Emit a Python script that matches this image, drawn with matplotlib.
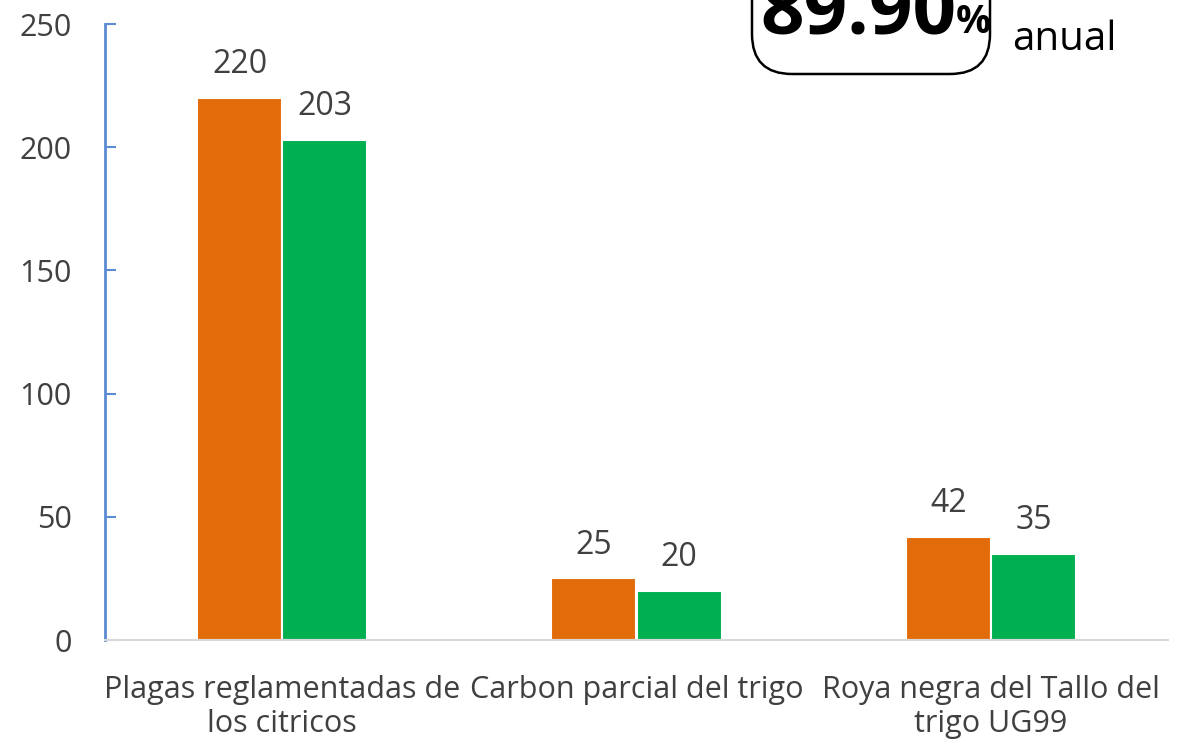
import matplotlib
matplotlib.use("Agg")
import matplotlib.pyplot as plt
import numpy as np
from matplotlib.patches import FancyBboxPatch
from matplotlib.transforms import IdentityTransform

# --- DATA ---
categories = ["Plagas reglamentadas de\nlos citricos", "Carbon parcial del trigo",
              "Roya negra del Tallo del\ntrigo UG99"]
serie_a = [220, 25, 42]
serie_b = [203, 20, 35]
yticks = [0, 50, 100, 150, 200, 250]

ORANGE = '#E36C0A'
GREEN = '#00B050'
GRAY = '#404040'

plt.rcParams['font.family'] = ['Open Sans', 'DejaVu Sans']

W, H = 1191, 748
fig = plt.figure(figsize=(W / 100, H / 100), dpi=100)
ax = fig.add_axes([105 / W, 1 - 640 / H, (1168 - 105) / W, (640 - 24) / H])

x = np.arange(len(categories))
w = 0.24
b1 = ax.bar(x - w / 2, serie_a, w, color=ORANGE, edgecolor='white', linewidth=1.5)
b2 = ax.bar(x + w / 2, serie_b, w, color=GREEN, edgecolor='white', linewidth=1.5)

for bars in (b1, b2):
    for r in bars:
        ax.annotate(f"{int(r.get_height())}", (r.get_x() + r.get_width() / 2, r.get_height()),
                    xytext=(0, 12), textcoords='offset points', ha='center', va='bottom',
                    fontsize=23, color=GRAY)

ax.set_xlim(-0.5, 2.5)
ax.set_ylim(0, 250)
ax.set_yticks(yticks)
ax.set_xticks(x)
ax.set_xticklabels(categories, fontsize=22, color=GRAY, linespacing=1.2)
ax.tick_params(axis='x', length=0, pad=25)
ax.tick_params(axis='y', direction='in', length=8, width=1.5, color='#5B8BD0',
               labelsize=22, labelcolor=GRAY, pad=24)

for s in ('top', 'right'):
    ax.spines[s].set_visible(False)
ax.spines['left'].set_color('#5B8BD0')
ax.spines['left'].set_linewidth(2)
ax.spines['bottom'].set_color('#D9D9D9')
ax.spines['bottom'].set_linewidth(1.5)

# --- BOX AT TOP (cut off by the top edge, like the original) ---
box = FancyBboxPatch((752, H - 74), 238, 160, boxstyle="round,pad=0,rounding_size=40",
                     transform=IdentityTransform(), facecolor='white', edgecolor='black',
                     linewidth=1.8)
fig.patches.append(box)
fig.text(760 / W, 1 - 33 / H, "89.90", fontsize=55, fontweight='bold', color='black',
         va='baseline', ha='left')
fig.text(956 / W, 1 - 33 / H, "%", fontsize=28, fontweight='bold', color='black',
         va='baseline', ha='left')
fig.text(1012 / W, 1 - 50 / H, "anual", fontsize=29, color='black', va='baseline', ha='left')

fig.savefig("out.png", dpi=100)
